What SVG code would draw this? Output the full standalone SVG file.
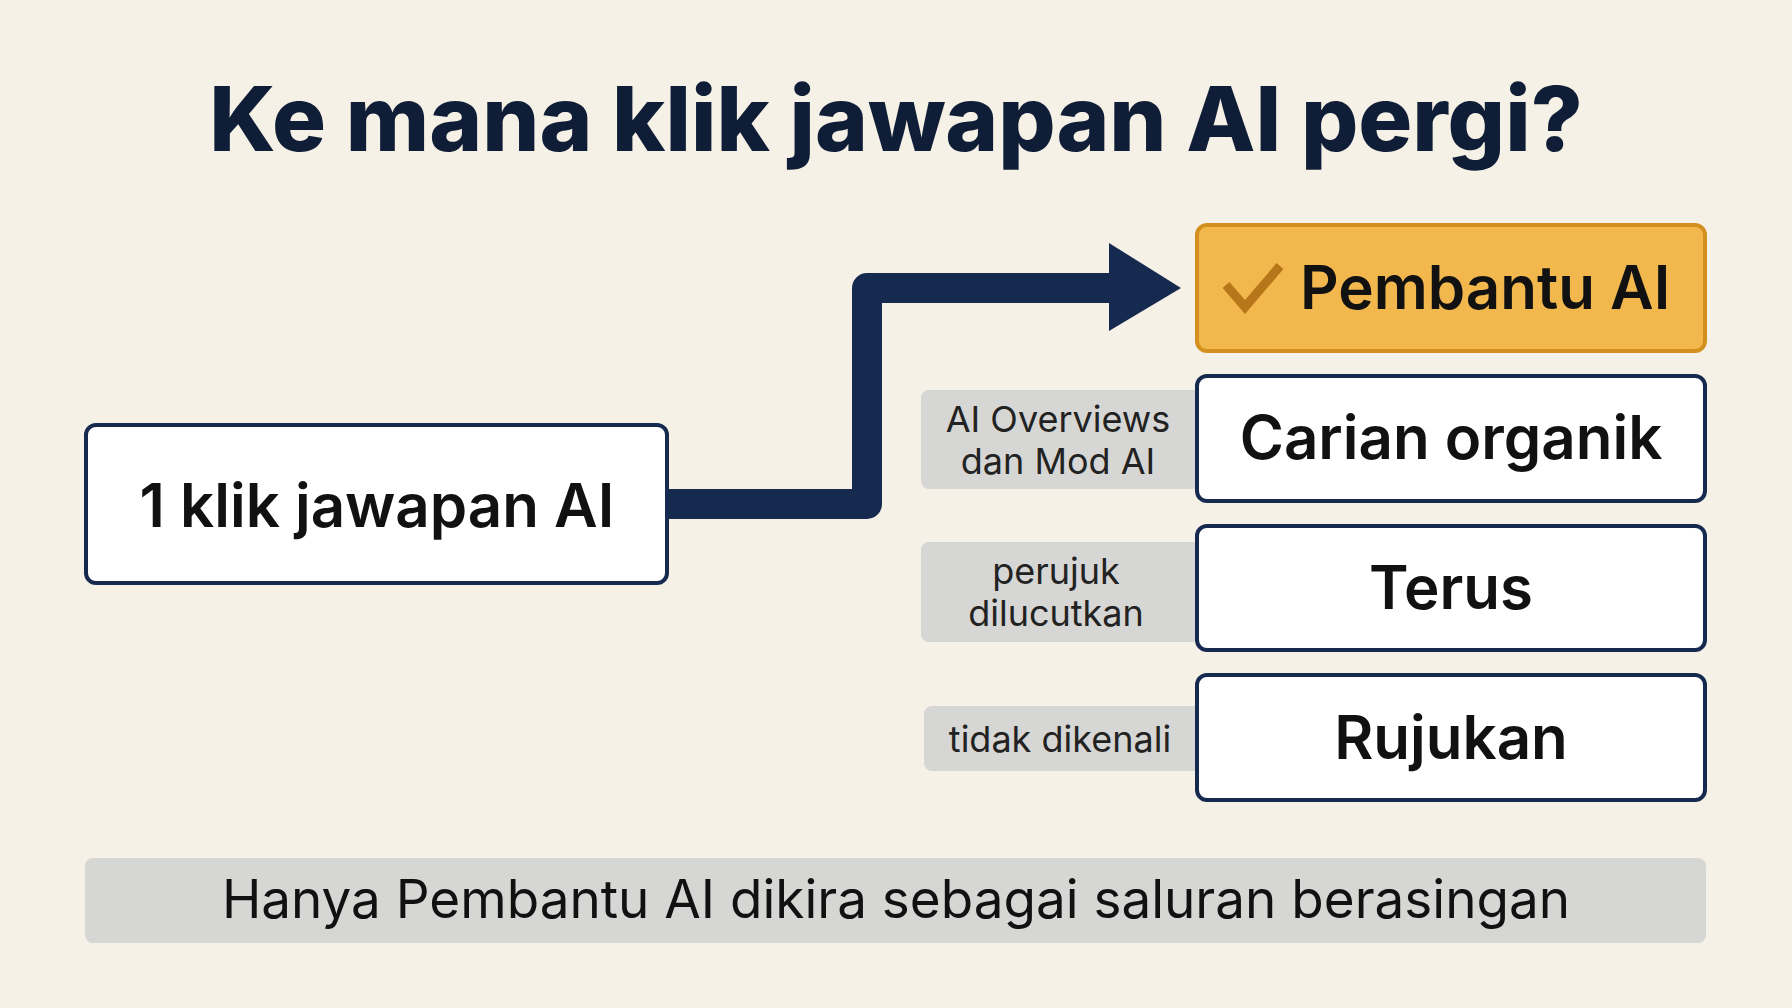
<svg xmlns="http://www.w3.org/2000/svg" width="1792" height="1008" viewBox="0 0 1792 1008">
<style>
text{font-family:Inter,"Noto Sans","Liberation Sans",sans-serif;fill:#111;}
.box{fill:#fff;stroke:#152a4e;stroke-width:4;}
.lab{fill:#d6d6d4;}
.big{font-size:60px;font-weight:600;text-anchor:middle;}
.sm{font-size:36px;text-anchor:middle;fill:#222;}
</style>
<rect width="1792" height="1008" fill="#f6f1e7"/>
<text x="896" y="151" font-size="90" font-weight="800" text-anchor="middle" fill="#0f1e36" style="fill:#0f1e36">Ke mana klik jawapan AI pergi?</text>
<g id="connectors">
<path d="M667 504 H867 V288 H1115" fill="none" stroke="#152a4e" stroke-width="30" stroke-linejoin="round"/>
<polygon points="1109,243 1181,288 1109,331" fill="#152a4e"/>
</g>
<g id="source"><rect class="box" x="86" y="425" width="581" height="158" rx="10"/><text class="big" x="377" y="527">1 klik jawapan AI</text></g>
<g id="pembantu"><rect x="1197" y="225" width="508" height="126" rx="10" fill="#f2b84e" stroke="#d4901e" stroke-width="4"/>
<path d="M1226 285 L1245 307 L1280 266" fill="none" stroke="#b7761a" stroke-width="9"/>
<text x="1300" y="309" font-size="60" font-weight="600">Pembantu AI</text></g>
<g id="lab1"><rect class="lab" x="921" y="390" width="280" height="99" rx="8"/><text class="sm" x="1058" y="432">AI Overviews</text><text class="sm" x="1058" y="474">dan Mod AI</text></g>
<g id="carian"><rect class="box" x="1197" y="376" width="508" height="125" rx="10"/><text class="big" x="1451" y="459">Carian organik</text></g>
<g id="lab2"><rect class="lab" x="921" y="542" width="280" height="100" rx="8"/><text class="sm" x="1056" y="584">perujuk</text><text class="sm" x="1056" y="626">dilucutkan</text></g>
<g id="terus"><rect class="box" x="1197" y="526" width="508" height="124" rx="10"/><text class="big" x="1451" y="609">Terus</text></g>
<g id="lab3"><rect class="lab" x="924" y="706" width="277" height="65" rx="8"/><text class="sm" x="1060" y="752">tidak dikenali</text></g>
<g id="rujukan"><rect class="box" x="1197" y="675" width="508" height="125" rx="10"/><text class="big" x="1451" y="759">Rujukan</text></g>
<g id="banner"><rect x="85" y="858" width="1621" height="85" rx="8" fill="#d6d6d4"/><text x="896" y="918" font-size="53" text-anchor="middle">Hanya Pembantu AI dikira sebagai saluran berasingan</text></g>
</svg>
